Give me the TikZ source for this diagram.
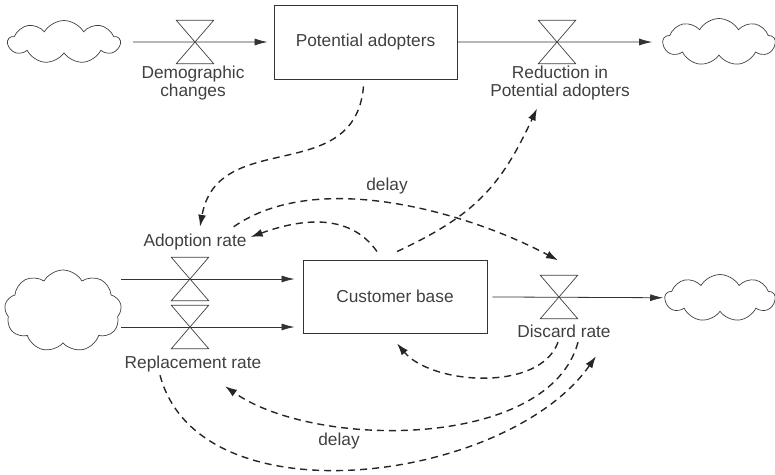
\documentclass[tikz,border=0pt]{standalone}
\usepackage{fontspec}
\setmainfont{Liberation Sans}
\usetikzlibrary{shapes.symbols, arrows.meta}

\tikzset{
  stock/.style={draw=black!80, line width=0.9pt, text=black!75, inner sep=0pt},
  valve/.style={minimum width=37pt, minimum height=43pt, inner sep=0pt},
  valveline/.style={draw=black!75, line width=0.7pt},
  source/.style={cloud, cloud puffs=9, cloud puff arc=120, cloud ignores aspect,
                 draw=black!75, line width=0.7pt, inner sep=0pt},
  flow/.style={draw=black!80, line width=0.8pt, arrows={-Latex[length=13pt,width=7pt]}},
  infl/.style={draw=black!85, line width=1.4pt, dash pattern=on 7pt off 5pt,
               arrows={-Latex[length=12pt,width=8pt]}},
  lbl/.style={text=black!75, inner sep=1pt, text height=12.5pt, text depth=3.5pt},
  lbltwo/.style={text=black!75, inner sep=1pt, align=center},
}

\begin{document}
\begin{tikzpicture}[x=1pt, y=-1pt, font=\fontsize{17.3}{18.5}\selectfont]
\useasboundingbox (0,0) rectangle (775,474);

% stocks
\node[stock, minimum width=183pt, minimum height=74pt] (pa) at (365.5,42) {Potential adopters};
\node[stock, minimum width=184pt, minimum height=73pt] (cb) at (395,296.5) {Customer base};

% sources and sinks
\node[source, minimum width=112pt, minimum height=43pt] (srcA) at (64,42) {};
\node[source, minimum width=112pt, minimum height=47pt] (sinkA) at (719,42) {};
\node[source, minimum width=117pt, minimum height=82pt] (srcB) at (63,311) {};
\node[source, minimum width=110pt, minimum height=47pt] (sinkB) at (720,298) {};

% valves
\node[valve] (vdemo) at (195,42) {};
\node[valve] (vred) at (557,42) {};
\node[valve] (vadopt) at (190,279) {};
\node[valve] (vrepl) at (190,327) {};
\node[valve] (vdisc) at (559,297) {};

% labels
\node[lbltwo] (ldemo) at (193,83) {Demographic\\changes};
\node[lbltwo] (lred) at (560,83) {Reduction in\\Potential adopters};
\node[lbl] (ladopt) at (195,242) {Adoption rate};
\node[lbl] (lrepl) at (193,364) {Replacement rate};
\node[lbl] (ldisc) at (564,333) {Discard rate};
\node[lbl] (dtop) at (387,186) {delay};
\node[lbl] (dbot) at (339,441) {delay};

% flows
\draw[flow, shorten <=12pt, shorten >=6pt] (srcA) -- (pa);
\draw[flow, shorten >=10pt] (pa) -- (sinkA);
\draw[flow, shorten >=8pt] (srcB.east |- vadopt) -- (cb.west |- vadopt);
\draw[flow, shorten >=8pt] (srcB.east |- vrepl) -- (cb.west |- vrepl);
\draw[flow, shorten <=5pt, shorten >=1pt] (cb) -- (sinkB);

\foreach \v in {vdemo,vred,vadopt,vrepl,vdisc}
  \draw[valveline] (\v.north west) -- (\v.north east) -- (\v.south west) -- (\v.south east) -- cycle;

% information links
\draw[infl] ([xshift=-2pt,yshift=-7pt]pa.south) to[out=-95, in=80, looseness=1.2] ([xshift=5pt,yshift=6pt]ladopt.north);
\draw[infl] ([xshift=2pt,yshift=8pt]cb.north) to[out=25, in=-115, looseness=1.1] ([xshift=-23pt,yshift=-7pt]lred.south);
\draw[infl] ([xshift=-18pt,yshift=8pt]cb.north) to[out=125, in=20] ([xshift=3pt,yshift=5pt]ladopt.east);
\draw[infl] ([xshift=-14pt,yshift=6pt]ladopt.north east) to[out=35, in=152, looseness=0.8] ([xshift=-1pt,yshift=15pt]vdisc.north);
\draw[infl] ([xshift=-6pt]ldisc.south) to[out=-110, in=-50, looseness=0.85] ([xshift=2pt,yshift=-10pt]cb.south);
\draw[infl] ([xshift=14pt]ldisc.south) to[out=-105, in=-35, looseness=0.8] ([xshift=32pt,yshift=-13pt]lrepl.south);
\draw[infl] ([xshift=-33pt,yshift=-2pt]lrepl.south) to[out=-75, in=-125, looseness=0.9] ([xshift=32pt,yshift=-14pt]ldisc.south);

\end{tikzpicture}
\end{document}
